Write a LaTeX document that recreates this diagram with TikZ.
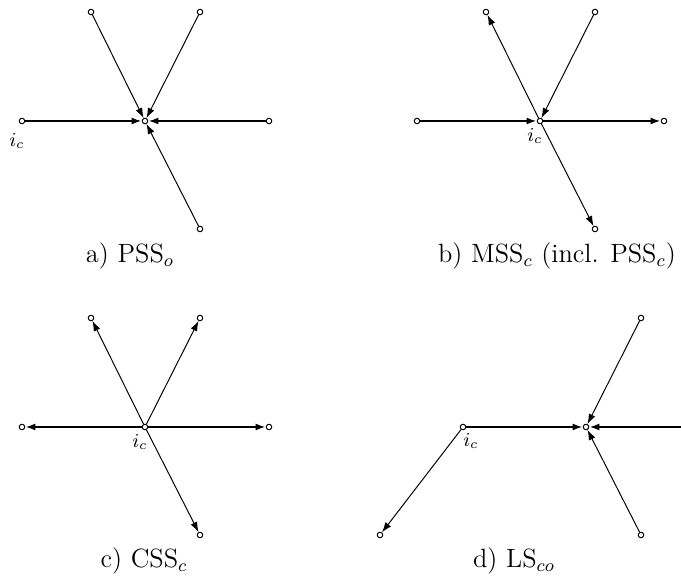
\documentclass[tikz,border=0pt]{standalone}
\usetikzlibrary{arrows.meta}
\begin{document}
\begin{tikzpicture}[x=0.4545pt,y=-0.4545pt,
  vtx/.style={circle,draw,line width=0.45pt,inner sep=0pt,minimum size=2.5pt,fill=white},
  thickedge/.style={line width=0.95pt},
  thinedge/.style={line width=0.45pt},
  arr/.style={-{Latex[length=4.6pt,width=3.2pt]}},
  lbl/.style={inner sep=0pt,font=\small},
  captext/.style={inner sep=0pt,anchor=base,font=\large}]
\useasboundingbox (0,0) rectangle (681,583);
% ---------- a ----------
\node[vtx] (ac) at (145,121) {};
\node[vtx] (atl) at (91,12) {};
\node[vtx] (atr) at (200,12) {};
\node[vtx] (al) at (22,121) {};
\node[vtx] (ar) at (269,121) {};
\node[vtx] (ab) at (200,229) {};
\draw[thickedge,arr] (al) -- (ac);
\draw[thickedge,arr] (ar) -- (ac);
\draw[thinedge,arr] (atl) -- (ac);
\draw[thinedge,arr] (atr) -- (ac);
\draw[thinedge,arr] (ab) -- (ac);
\node[lbl] (aic) at (17,141) {$i_c$};
\node[captext] (acap) at (130,263) {a) PSS$_o$};
% ---------- b ----------
\node[vtx] (bc) at (540,121) {};
\node[vtx] (btl) at (486,12) {};
\node[vtx] (btr) at (595,12) {};
\node[vtx] (bl) at (417,121) {};
\node[vtx] (br) at (664,121) {};
\node[vtx] (bb) at (595,229) {};
\draw[thickedge,arr] (bl) -- (bc);
\draw[thickedge,arr] (bc) -- (br);
\draw[thinedge,arr] (bc) -- (btl);
\draw[thinedge,arr] (btr) -- (bc);
\draw[thinedge,arr] (bc) -- (bb);
\node[lbl] (bic) at (535,136) {$i_c$};
\node[captext] (bcap) at (557,263) {b) MSS$_c$ (incl. PSS$_c$)};
% ---------- c ----------
\node[vtx] (cc) at (145,427) {};
\node[vtx] (ctl) at (91,318) {};
\node[vtx] (ctr) at (200,318) {};
\node[vtx] (cl) at (22,427) {};
\node[vtx] (cr) at (269,427) {};
\node[vtx] (cb) at (200,535) {};
\draw[thickedge,arr] (cc) -- (cl);
\draw[thickedge,arr] (cc) -- (cr);
\draw[thinedge,arr] (cc) -- (ctl);
\draw[thinedge,arr] (cc) -- (ctr);
\draw[thinedge,arr] (cc) -- (cb);
\node[lbl] (cic) at (140,442) {$i_c$};
\node[captext] (ccap) at (144,568) {c) CSS$_c$};
% ---------- d ----------
\node[vtx] (di) at (463,427) {};
\node[vtx] (dc) at (586,427) {};
\node[vtx] (dtr) at (641,318) {};
\node[vtx] (dbr) at (641,535) {};
\node[vtx] (dbl) at (380,535) {};
\coordinate (dr) at (681,427);
\draw[thickedge,arr] (di) -- (dc);
\draw[thickedge,arr] (dr) -- (dc);
\draw[thinedge,arr] (dtr) -- (dc);
\draw[thinedge,arr] (dbr) -- (dc);
\draw[thinedge,arr] (di) -- (dbl);
\node[lbl] (dic) at (471,441) {$i_c$};
\node[captext] (dcap) at (514,568) {d) LS$_{co}$};
\end{tikzpicture}
\end{document}
